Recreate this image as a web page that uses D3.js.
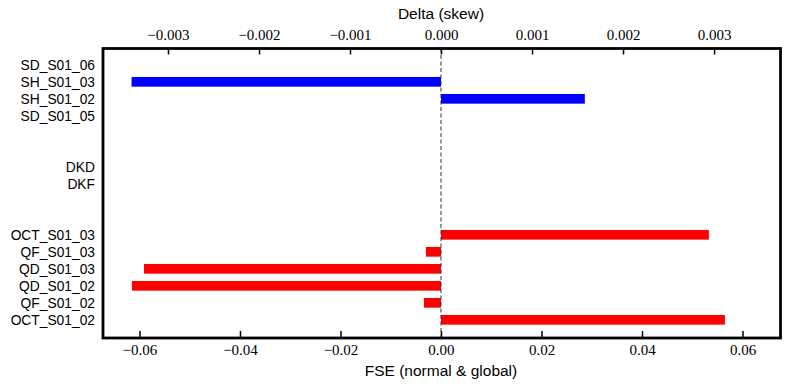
<!DOCTYPE html>
<html>
<head>
<meta charset="utf-8">
<script src="https://cdn.jsdelivr.net/npm/d3@7"></script>
<style>
  body { margin: 0; background: #fff; }
  .tick text { font-family: "Liberation Serif", "DejaVu Serif", serif; font-size: 15px; }
  .lbl { font-family: "Liberation Sans", sans-serif; font-size: 13.8px; }
  .title { font-family: "Liberation Sans", sans-serif; font-size: 15.5px; }
</style>
</head>
<body>
<div id="chart"></div>
<script>
// category labels and their slot positions (0 = bottom)
const categories = ["OCT_S01_02", "QF_S01_02", "QD_S01_02", "QD_S01_03", "QF_S01_03", "OCT_S01_03",
                    "DKF", "DKD",
                    "SD_S01_05", "SH_S01_02", "SH_S01_03", "SD_S01_06"];
const positions = [0, 1, 2, 3, 4, 5, 8, 9, 12, 13, 14, 15];

// FSE (normal & global), bottom axis, red bars
const fseValues = [0.0565, -0.0034, -0.0615, -0.0591, -0.0030, 0.0533,
                   0, 0, 0, 0, 0, 0];
// Delta (skew), top axis, blue bars
const skewValues = [0, 0, 0, 0, 0, 0,
                    0, 0, 0, 0.00158, -0.0034, 0];

const bottomTicks = [-0.06, -0.04, -0.02, 0.00, 0.02, 0.04, 0.06];
const topTicks = [-0.003, -0.002, -0.001, 0.000, 0.001, 0.002, 0.003];

const W = 790, H = 390;
const margin = {top: 48.5, right: 9.5, bottom: 52, left: 103};
const width = W - margin.left - margin.right,
      height = H - margin.top - margin.bottom;

const svg = d3.select("#chart").append("svg")
  .attr("width", W).attr("height", H)
  .append("g")
  .attr("transform", "translate(" + margin.left + "," + margin.top + ")");

const x = d3.scaleLinear().domain([-0.06726, 0.06756]).range([0, width]);
const xTop = d3.scaleLinear().domain([-0.003714, 0.00373]).range([0, width]);
const y = d3.scaleLinear().domain([-1.07, 15.96]).range([height, 0]);
const barH = 0.57;

const minus = s => s.replace("-", "\u2212");

// bottom axis
svg.append("g")
  .attr("transform", "translate(0," + height + ")")
  .call(d3.axisBottom(x).tickValues(bottomTicks).tickSizeInner(-7).tickSizeOuter(0).tickPadding(6)
    .tickFormat(d => minus(d3.format(".2f")(d))))
  .call(g => g.select(".domain").remove())
  .call(g => g.selectAll(".tick line").attr("stroke", "#000").attr("stroke-width", 1.5));

// top axis
svg.append("g")
  .call(d3.axisTop(xTop).tickValues(topTicks).tickSizeInner(-6).tickSizeOuter(0).tickPadding(9)
    .tickFormat(d => minus(d3.format(".3f")(d))))
  .call(g => g.select(".domain").remove())
  .call(g => g.selectAll(".tick line").attr("stroke", "#000").attr("stroke-width", 1.5));

const rows = categories.map((c, i) => ({c: c, pos: positions[i], fse: fseValues[i], skew: skewValues[i]}));

// red bars
svg.selectAll(".fse")
  .data(rows.filter(d => d.fse !== 0))
  .enter().append("rect")
  .attr("class", "fse")
  .attr("x", d => x(Math.min(0, d.fse)))
  .attr("width", d => Math.abs(x(d.fse) - x(0)))
  .attr("y", d => y(d.pos + barH / 2))
  .attr("height", d => y(d.pos - barH / 2) - y(d.pos + barH / 2))
  .attr("fill", "#ff0000");

// blue bars
svg.selectAll(".skew")
  .data(rows.filter(d => d.skew !== 0))
  .enter().append("rect")
  .attr("class", "skew")
  .attr("x", d => xTop(Math.min(0, d.skew)))
  .attr("width", d => Math.abs(xTop(d.skew) - xTop(0)))
  .attr("y", d => y(d.pos + barH / 2))
  .attr("height", d => y(d.pos - barH / 2) - y(d.pos + barH / 2))
  .attr("fill", "#0000ff");

// zero line
svg.append("line")
  .attr("x1", x(0)).attr("x2", x(0))
  .attr("y1", 0).attr("y2", height)
  .attr("stroke", "#333").attr("stroke-width", 1)
  .attr("stroke-dasharray", "4,2.5");

// category labels
svg.selectAll(".cat")
  .data(rows)
  .enter().append("text")
  .attr("class", "lbl")
  .attr("x", -8)
  .attr("y", d => y(d.pos))
  .attr("dy", "0.36em")
  .attr("text-anchor", "end")
  .text(d => d.c);

// frame
svg.append("rect")
  .attr("width", width).attr("height", height)
  .attr("fill", "none").attr("stroke", "#000").attr("stroke-width", 2.8);

// axis titles
svg.append("text").attr("class", "title")
  .attr("x", x(0)).attr("y", height + 38)
  .attr("text-anchor", "middle")
  .text("FSE (normal & global)");

svg.append("text").attr("class", "title")
  .attr("x", x(0)).attr("y", -30)
  .attr("text-anchor", "middle")
  .text("Delta (skew)");
</script>
</body>
</html>
